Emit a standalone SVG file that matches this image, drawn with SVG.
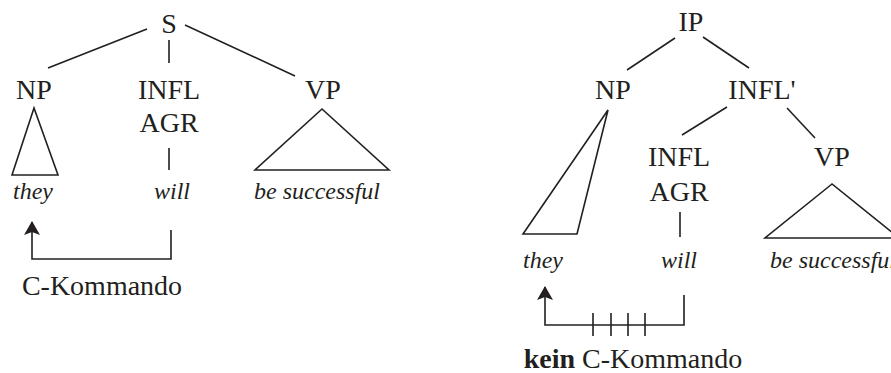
<svg xmlns="http://www.w3.org/2000/svg" width="891" height="373" viewBox="0 0 891 373">
<defs>
<style>
text{font-size:28px;fill:#231f20}
.it{font-style:italic;font-size:24px}
.l{stroke:#231f20;stroke-width:1.6;fill:none}
.b{font-weight:bold}
</style>
<marker id="ah" viewBox="0 0 14 16" refX="13" refY="8" markerWidth="14" markerHeight="16" markerUnits="userSpaceOnUse" orient="auto">
<path d="M0,0 L14,8 L0,16 L3,8 Z" fill="#231f20"/>
</marker>
</defs>
<rect width="891" height="373" fill="#fff"/>
<g id="left-tree" text-anchor="middle">
<g id="S"><text font-family="Liberation Serif" x="169" y="33">S</text></g>
<g id="NP1"><text font-family="Liberation Serif" x="34" y="99">NP</text></g>
<g id="INFL1"><text font-family="Liberation Serif" x="169" y="99">INFL</text><text font-family="Liberation Serif" x="169" y="132">AGR</text></g>
<g id="VP1"><text font-family="Liberation Serif" x="323" y="99">VP</text></g>
<g id="they1"><text font-family="Liberation Serif" class="it" x="33" y="199">they</text></g>
<g id="will1"><text font-family="Liberation Serif" class="it" x="172" y="199">will</text></g>
<g id="succ1"><text font-family="Liberation Serif" class="it" x="317" y="199">be successful</text></g>
<g id="ck1"><text font-family="Liberation Serif" x="102" y="295">C-Kommando</text></g>
</g>
<g id="right-tree" text-anchor="middle">
<g id="IP"><text font-family="Liberation Serif" x="691" y="31">IP</text></g>
<g id="NP2"><text font-family="Liberation Serif" x="613" y="99">NP</text></g>
<g id="INFLbar"><text font-family="Liberation Serif" x="762" y="99">INFL'</text></g>
<g id="INFL2"><text font-family="Liberation Serif" x="679" y="166">INFL</text><text font-family="Liberation Serif" x="679" y="201">AGR</text></g>
<g id="VP2"><text font-family="Liberation Serif" x="832" y="166">VP</text></g>
<g id="they2"><text font-family="Liberation Serif" class="it" x="543" y="268">they</text></g>
<g id="will2"><text font-family="Liberation Serif" class="it" x="679" y="268">will</text></g>
<g id="succ2"><text font-family="Liberation Serif" class="it" x="770" y="268" text-anchor="start">be successful</text></g>
<g id="ck2"><text font-family="Liberation Serif" x="633" y="368"><tspan class="b">kein</tspan> C-Kommando</text></g>
</g>
<g id="connectors" class="l">
<line x1="147" y1="29" x2="48" y2="68"/>
<line x1="169" y1="40" x2="169" y2="63"/>
<line x1="185" y1="25" x2="295" y2="76"/>
<line x1="169" y1="148" x2="169" y2="170"/>
<path d="M34,108 L12,175 L58,175 Z"/>
<path d="M322,109 L255,170 L389,170 Z"/>
<path d="M171,230 V259 H32 V222" marker-end="url(#ah)"/>
<line x1="675" y1="38" x2="627" y2="70"/>
<line x1="703" y1="37" x2="749" y2="68"/>
<line x1="727" y1="107" x2="682" y2="135"/>
<line x1="787" y1="108" x2="815" y2="138"/>
<line x1="680" y1="212" x2="680" y2="237"/>
<path d="M608,110 L523,234 L577,234 Z"/>
<path d="M832,184 L765,238 L899,238 Z"/>
<path d="M684,295 V325 H545 V287" marker-end="url(#ah)"/>
<line x1="593" y1="313" x2="593" y2="336"/>
<line x1="611" y1="313" x2="611" y2="336"/>
<line x1="628" y1="313" x2="628" y2="336"/>
<line x1="645" y1="313" x2="645" y2="336"/>
</g>
</svg>
